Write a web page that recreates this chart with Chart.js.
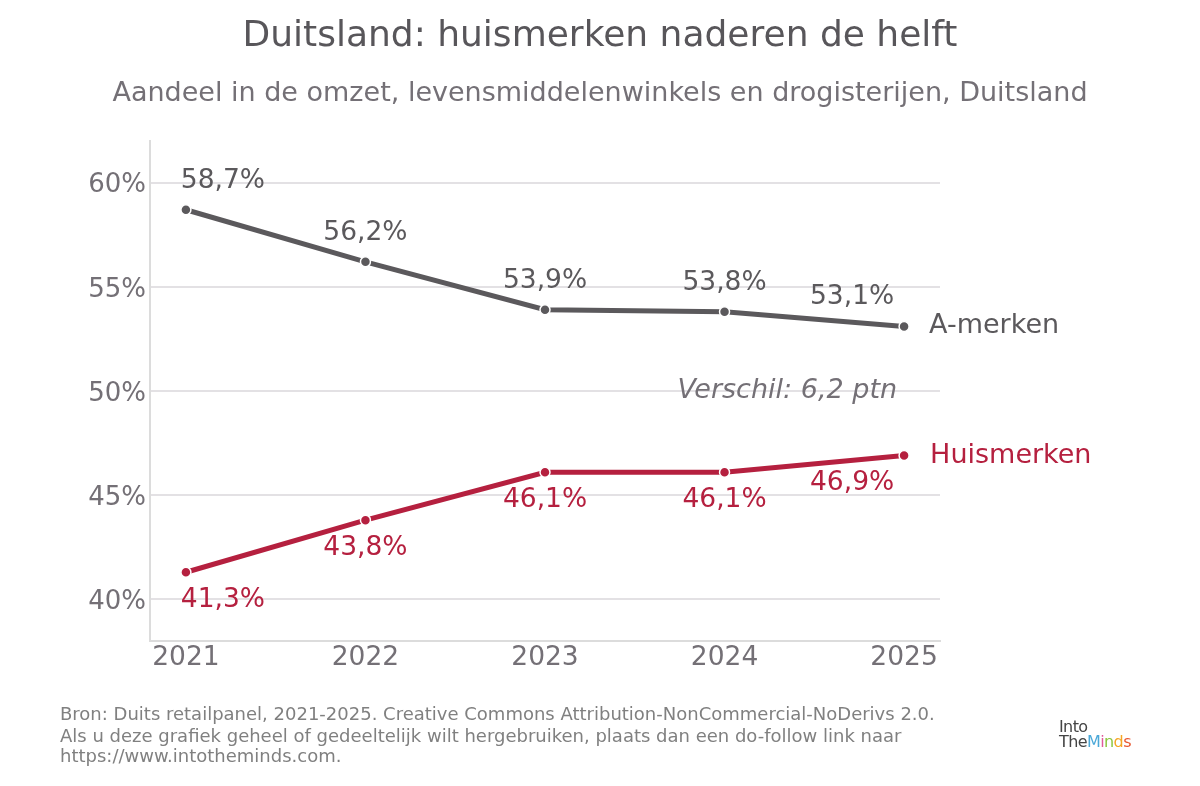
<!DOCTYPE html>
<html>
<head>
<meta charset="utf-8">
<script src="https://cdn.jsdelivr.net/npm/chart.js@4.4.1/dist/chart.umd.min.js"></script>
<style>
  html, body { margin: 0; padding: 0; background: #ffffff; font-family: 'DejaVu Sans', sans-serif; }
  #wrap { position: relative; width: 1200px; height: 786px; }
  #logo { position: absolute; left: 1059px; top: 719px; font-family: 'DejaVu Sans', sans-serif; font-size: 16px; line-height: 15px; color: #444; letter-spacing: -0.6px; }
  #logo span.m { color: #4aa8d8; } #logo span.i { color: #e05a9a; } #logo span.n { color: #8cc63f; } #logo span.d { color: #f5a623; } #logo span.s { color: #e8552e; }
</style>
</head>
<body>
<div id="wrap">
  <canvas id="chart" width="1200" height="786"></canvas>
  <div id="logo">Into<br>The<span class="m">M</span><span class="i">i</span><span class="n">n</span><span class="d">d</span><span class="s">s</span></div>
</div>
<script>
// Data
const years = [2021, 2022, 2023, 2024, 2025];
const aMerken = [58.7, 56.2, 53.9, 53.8, 53.1];
const huisMerken = [41.3, 43.8, 46.1, 46.1, 46.9];
const yTicks = [40, 45, 50, 55, 60];

const GREY = '#5b595c';
const RED = '#b5203f';
const TEXT = '#747076';
const FONT = 'DejaVu Sans, Verdana, sans-serif';

const fmt = v => v.toFixed(1).replace('.', ',') + '%';

// Draws titles, value labels, series names and the footer
const decorations = {
    id: 'decorations',
    afterDraw(chart) {
        const ctx = chart.ctx;
        const x = chart.scales.x, y = chart.scales.y;
        ctx.save();
        ctx.textBaseline = 'middle';

        ctx.textAlign = 'center';
        ctx.fillStyle = '#58565a';
        ctx.font = '36px ' + FONT;
        ctx.fillText('Duitsland: huismerken naderen de helft', 600, 37);
        ctx.fillStyle = TEXT;
        ctx.font = '27px ' + FONT;
        ctx.fillText('Aandeel in de omzet, levensmiddelenwinkels en drogisterijen, Duitsland', 600, 94);

        // value labels
        ctx.font = '26.5px ' + FONT;
        const shift = i => i === 0 ? 37 : (i === years.length - 1 ? -52 : 0);
        years.forEach((yr, i) => {
            const px = x.getPixelForValue(yr) + shift(i);
            ctx.fillStyle = GREY;
            ctx.fillText(fmt(aMerken[i]), px, y.getPixelForValue(aMerken[i]) - 29);
            ctx.fillStyle = RED;
            ctx.fillText(fmt(huisMerken[i]), px, y.getPixelForValue(huisMerken[i]) + 28);
        });

        // series names
        const last = years.length - 1;
        const lx = x.getPixelForValue(years[last]) + 25;
        ctx.textAlign = 'left';
        ctx.font = '27px ' + FONT;
        ctx.fillStyle = GREY;
        ctx.fillText('A-merken', lx, y.getPixelForValue(aMerken[last]));
        ctx.fillStyle = RED;
        ctx.fillText('Huismerken', lx + 1, y.getPixelForValue(huisMerken[last]));

        // gap annotation
        const gap = (aMerken[last] - huisMerken[last]).toFixed(1).replace('.', ',');
        ctx.textAlign = 'right';
        ctx.fillStyle = TEXT;
        ctx.font = 'italic 27px ' + FONT;
        ctx.fillText('Verschil: ' + gap + ' ptn', x.getPixelForValue(years[last]) - 7, y.getPixelForValue(50));

        // footer
        ctx.textAlign = 'left';
        ctx.fillStyle = '#808080';
        ctx.font = '18px ' + FONT;
        ctx.fillText('Bron: Duits retailpanel, 2021-2025. Creative Commons Attribution-NonCommercial-NoDerivs 2.0.', 60, 715);
        ctx.fillText('Als u deze grafiek geheel of gedeeltelijk wilt hergebruiken, plaats dan een do-follow link naar', 60, 737);
        ctx.fillText('https://www.intotheminds.com.', 60, 757);
        ctx.restore();
    }
};

new Chart(document.getElementById('chart'), {
    type: 'line',
    data: {
        datasets: [
            {
                label: 'A-merken',
                data: years.map((yr, i) => ({ x: yr, y: aMerken[i] })),
                borderColor: GREY,
                backgroundColor: GREY,
                borderWidth: 5,
                pointRadius: 5,
                pointBorderColor: '#ffffff',
                pointBorderWidth: 1.5,
                tension: 0
            },
            {
                label: 'Huismerken',
                data: years.map((yr, i) => ({ x: yr, y: huisMerken[i] })),
                borderColor: RED,
                backgroundColor: RED,
                borderWidth: 5,
                pointRadius: 5,
                pointBorderColor: '#ffffff',
                pointBorderWidth: 1.5,
                tension: 0
            }
        ]
    },
    options: {
        responsive: false,
        animation: false,
        layout: { padding: { top: 141, right: 260, bottom: 0, left: 0 } },
        scales: {
            x: {
                type: 'linear',
                min: 2020.8,
                max: 2025.2,
                afterFit: s => { s.height = 145; },
                afterBuildTicks: s => { s.ticks = years.map(v => ({ value: v })); },
                grid: { display: false, drawTicks: false },
                border: { display: true, color: '#dcdcdc', width: 2 },
                ticks: {
                    padding: 1,
                    color: TEXT,
                    font: { family: FONT, size: 26.5 },
                    callback: v => String(v)
                }
            },
            y: {
                min: 38,
                max: 62,
                afterFit: s => { s.width = 150; },
                afterBuildTicks: s => { s.ticks = yTicks.map(v => ({ value: v })); },
                grid: { color: '#e3e1e4', lineWidth: 2, drawTicks: false },
                border: { display: true, color: '#dcdcdc', width: 2 },
                ticks: {
                    padding: 4,
                    labelOffset: 3,
                    color: TEXT,
                    font: { family: FONT, size: 26 },
                    callback: v => v + '%'
                }
            }
        },
        plugins: {
            legend: { display: false },
            tooltip: { enabled: false }
        }
    },
    plugins: [decorations]
});
</script>
</body>
</html>
